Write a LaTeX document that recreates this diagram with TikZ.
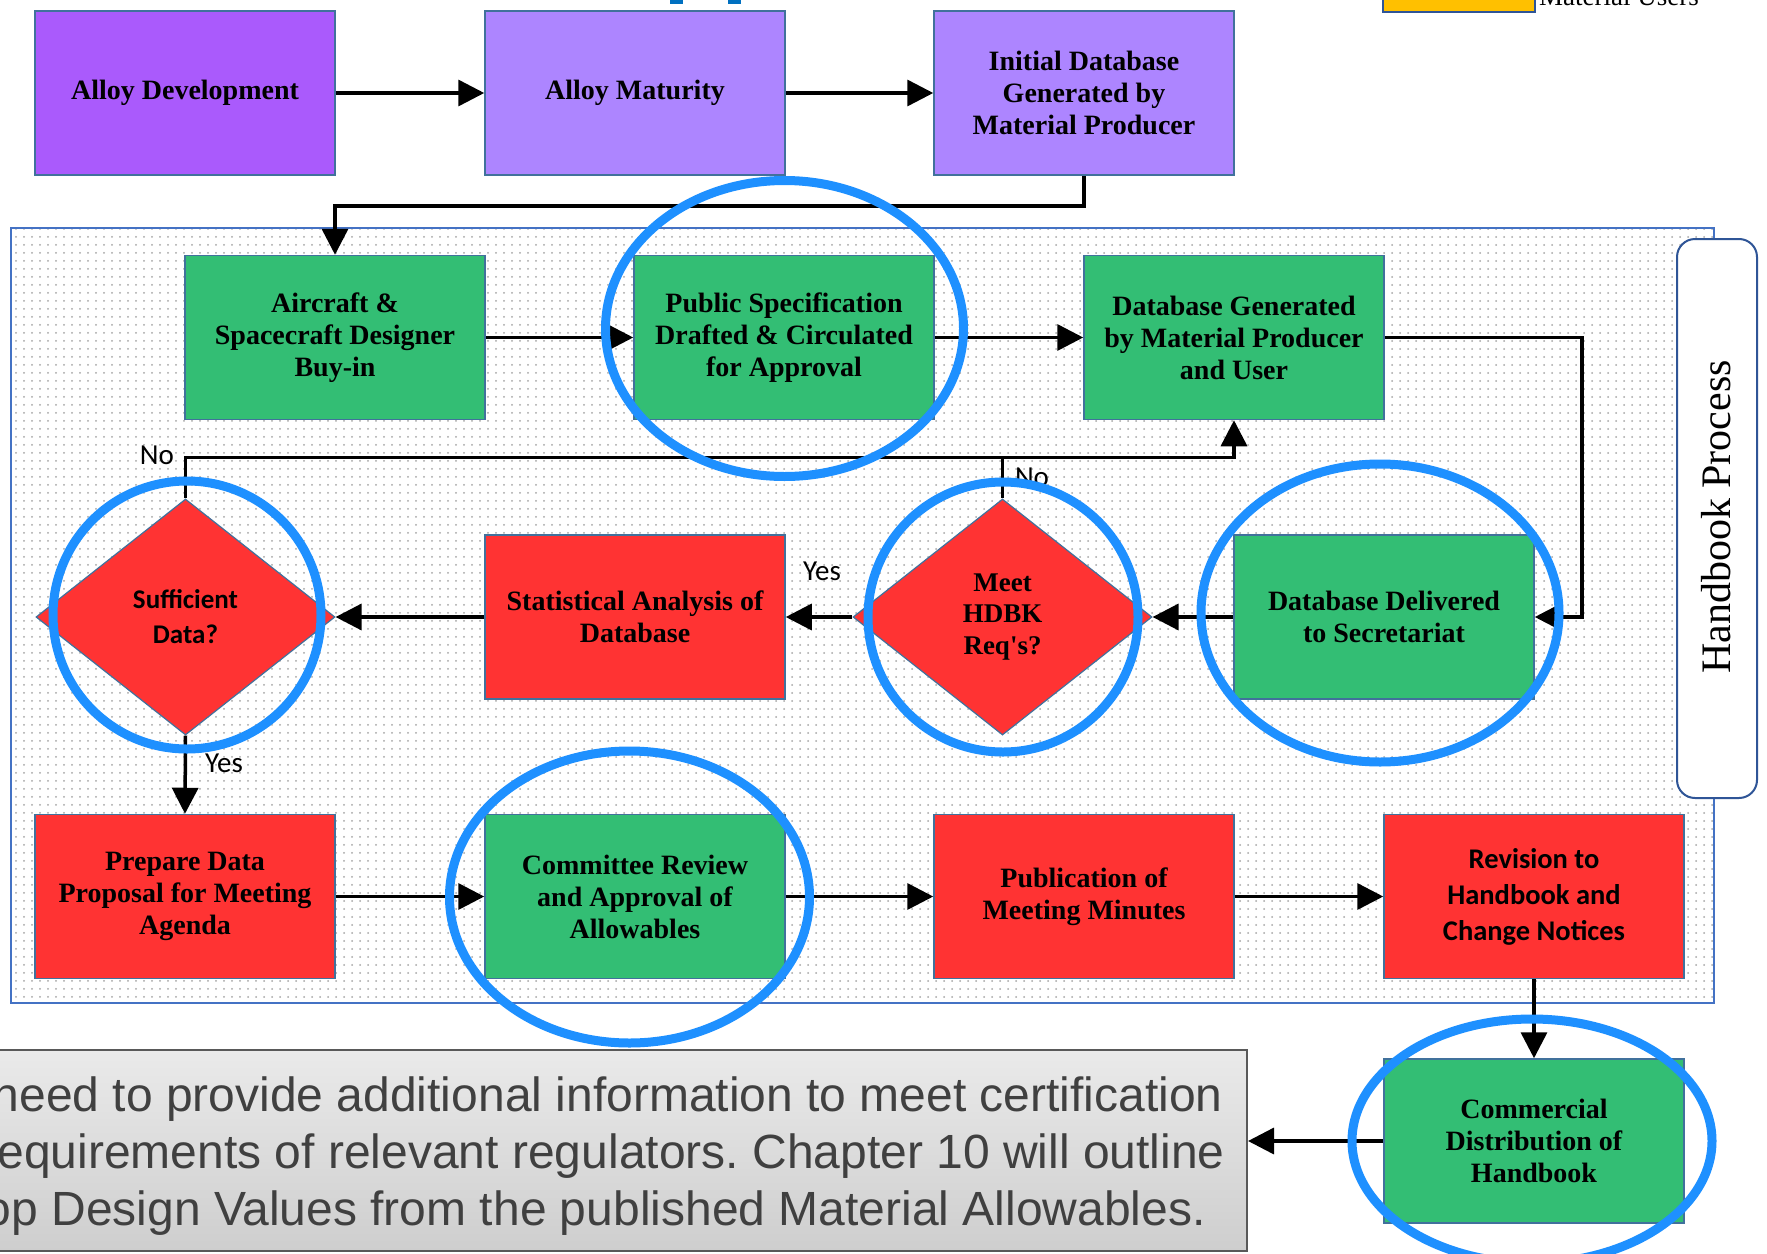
\documentclass[tikz,border=0pt]{standalone}
\usepackage{fontspec}
\setmainfont{Liberation Serif}
\newfontfamily\calib{Carlito}
\newfontfamily\arialf{Liberation Sans}
\usetikzlibrary{arrows.meta,shapes.geometric,patterns.meta}
\definecolor{devpurple}{RGB}{170,90,252}
\definecolor{lpurple}{RGB}{173,133,255}
\definecolor{hbgreen}{RGB}{51,190,116}
\definecolor{hbred}{RGB}{255,51,51}
\definecolor{edgeblue}{RGB}{65,113,156}
\definecolor{frameblue}{RGB}{47,85,151}
\definecolor{regionblue}{RGB}{68,114,196}
\definecolor{ringblue}{RGB}{30,144,255}
\definecolor{legorange}{RGB}{255,192,0}
\definecolor{titleblue}{RGB}{0,112,192}
\definecolor{gbtop}{RGB}{234,234,234}
\definecolor{gbbot}{RGB}{206,206,206}
\definecolor{gbedge}{RGB}{89,89,89}
\definecolor{gbtext}{RGB}{64,64,64}
\definecolor{dotgray}{RGB}{165,165,165}
\frenchspacing
\begin{document}
\begin{tikzpicture}[x=1pt,y=-1pt,
  procbox/.style={draw=edgeblue, line width=1.5pt, minimum width=300pt, minimum height=164pt, inner sep=2pt, align=center},
  tnrb/.style={font=\fontsize{28}{32}\selectfont\bfseries},
  calb/.style={font=\calib\fontsize{28.5}{36}\selectfont\bfseries},
  decision/.style={diamond, draw=edgeblue, line width=1.2pt, fill=hbred, minimum width=299pt, minimum height=236pt, inner sep=0pt, aspect=1.267, align=center},
  conn/.style={line width=3.5pt},
  arr/.style={conn, -{Triangle[length=26pt,width=26pt]}},
  ynlabel/.style={font=\calib\fontsize{29}{34}\selectfont},
  gtext/.style={font=\arialf\fontsize{48}{57}\selectfont, text=gbtext, inner sep=0pt},
  ring/.style={draw=ringblue, line width=9pt},
]
\useasboundingbox (0,0) rectangle (1767,1253);
\begin{scope}
\clip (0,0) rectangle (1767,1253);
\fill[white] (0,0) rectangle (1767,1253);

% title fragments and legend
\fill[titleblue] (670,0) rectangle (683,4);
\fill[titleblue] (728,0) rectangle (741,4);
\node[draw=frameblue, line width=1.5pt, fill=legorange, minimum width=152pt, minimum height=30pt, inner sep=0pt] (legbox) at (1459,-3) {};
\node[anchor=base west, inner sep=0pt, font=\fontsize{27}{30}\selectfont] (legtext) at (1539,5) {Material Users};

% handbook region
\fill[white] (11,228) rectangle (1714,1003);
\fill[pattern={Dots[distance=8pt,radius=1pt]}, pattern color=dotgray] (11,228) rectangle (1714,1003);
\draw[regionblue, line width=1.5pt] (11,228) rectangle (1714,1003);
\node[draw=frameblue, line width=2pt, fill=white, rounded corners=18pt, minimum width=80pt, minimum height=559pt, inner sep=0pt] (hbbox) at (1717,518.5) {};
\node[rotate=90, font=\fontsize{42}{48}\selectfont] (hbtext) at (1716.5,517) {Handbook Process};

% top row
\node[procbox, fill=devpurple, tnrb] (dev) at (185,93) {Alloy Development};
\node[procbox, fill=lpurple, tnrb] (mat) at (635,93) {Alloy Maturity};
\node[procbox, fill=lpurple, tnrb] (idb) at (1084,93) {Initial Database\\Generated by\\Material Producer};

% second row
\node[procbox, fill=hbgreen, tnrb] (air) at (335,337.5) {Aircraft \&\\Spacecraft Designer\\Buy-in};
\node[procbox, fill=hbgreen, tnrb] (pub) at (784,337.5) {Public Specification\\Drafted \& Circulated\\for Approval};
\node[procbox, fill=hbgreen, tnrb] (dbg) at (1234,337.5) {Database Generated\\by Material Producer\\and User};

% third row
\node[decision, font=\calib\fontsize{27}{35}\selectfont\bfseries] (suf) at (185.5,617) {Sufficient\\Data?};
\node[procbox, fill=hbred, tnrb] (stat) at (635,617) {Statistical Analysis of\\Database};
\node[decision, font=\fontsize{27}{31.5}\selectfont\bfseries] (meet) at (1002.5,617) {Meet\\HDBK\\Req\textquotesingle s?};
\node[procbox, fill=hbgreen, tnrb] (dbd) at (1384,617) {Database Delivered\\to Secretariat};

% fourth row
\node[procbox, fill=hbred, tnrb] (prep) at (185,896.5) {Prepare Data\\Proposal for Meeting\\Agenda};
\node[procbox, fill=hbgreen, tnrb] (comm) at (635,896.5) {Committee Review\\and Approval of\\Allowables};
\node[procbox, fill=hbred, tnrb] (publ) at (1084,896.5) {Publication of\\Meeting Minutes};
\node[procbox, fill=hbred, calb] (rev) at (1534,896.5) {Revision to\\Handbook and\\Change Notices};

% commercial distribution
\node[procbox, fill=hbgreen, tnrb] (cdist) at (1534,1141) {Commercial\\Distribution of\\Handbook};

% gray text box
\node[draw=gbedge, line width=2pt, top color=gbtop, bottom color=gbbot, minimum width=1547pt, minimum height=201pt, inner sep=0pt] (gbox) at (473.5,1150.5) {};
\node[gtext, anchor=base east] (gl1) at (1223,1111) {need to provide additional information to meet certification};
\node[gtext, anchor=base east] (gl2) at (1225,1168) {equirements of relevant regulators. Chapter 10 will outline};
\node[gtext, anchor=base east] (gl3) at (1206,1225) {op Design Values from the published Material Allowables.};

% connectors
\draw[arr] (dev.east) -- (mat.west);
\draw[arr] (mat.east) -- (idb.west);
\draw[arr] (idb.south) -- ++(0,30) -| (air.north);
\draw[arr] (air.east) -- (pub.west);
\draw[arr] (pub.east) -- (dbg.west);
\draw[arr] (dbg.east) -- ++(197,0) |- (dbd.east);
\draw[arr] (dbd.west) -- (meet.east);
\draw[arr] (meet.west) -- (stat.east);
\draw[arr] (stat.west) -- (suf.east);
\draw[arr] (suf.south) -- (prep.north);
\draw[arr] (suf.north) -- ++(0,-41) -| (dbg.south);
\draw[conn] (meet.north) -- ++(0,-41);
\draw[arr] (prep.east) -- (comm.west);
\draw[arr] (comm.east) -- (publ.west);
\draw[arr] (publ.east) -- (rev.west);
\draw[arr] (rev.south) -- (cdist.north);
\draw[arr] (cdist.west) -- (cdist.west -| gbox.east);

% yes / no labels
\node[ynlabel] (no1) at (157,455) {No};
\node[ynlabel] (yes1) at (224,763) {Yes};
\node[ynlabel] (yes2) at (822,571) {Yes};
\node[ynlabel] (no2) at (1032,477) {No};

% highlight rings
\draw[ring] (784.5,328.5) ellipse [x radius=179, y radius=148];
\draw[ring] (187,615) circle [radius=134];
\draw[ring] (1003,617) circle [radius=135];
\draw[ring] (1380,613) ellipse [x radius=179, y radius=149];
\draw[ring] (629.5,897) ellipse [x radius=180, y radius=146];
\draw[ring] (1532,1141) ellipse [x radius=180, y radius=122];
\end{scope}
\end{tikzpicture}
\end{document}
